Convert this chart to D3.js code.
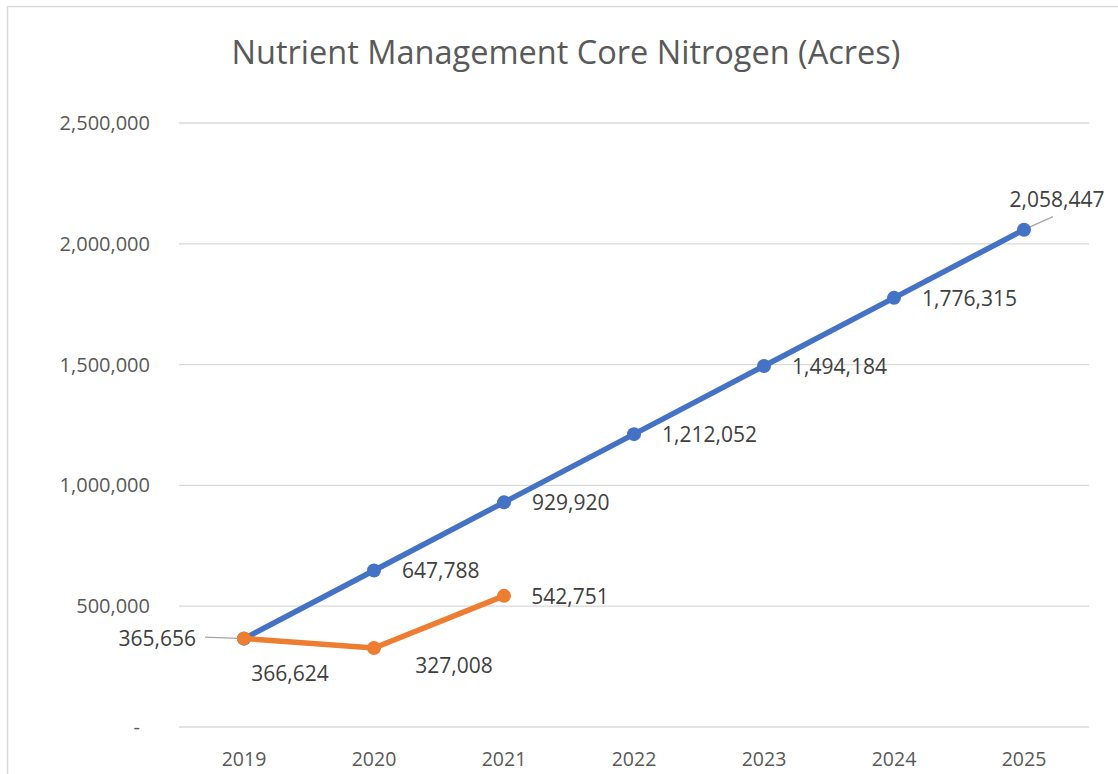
<!DOCTYPE html>
<html><head><meta charset="utf-8">
<script src="https://cdn.jsdelivr.net/npm/d3@7"></script>
<style>body{margin:0;background:#fff;} svg{display:block;font-family:"Open Sans","Noto Sans",sans-serif;}</style>
</head><body><svg id="c" width="1118" height="774"></svg>
<script>
const years = ["2019","2020","2021","2022","2023","2024","2025"];
const blueValues = [365656, 647788, 929920, 1212052, 1494184, 1776315, 2058447];
const orangeYears = ["2019","2020","2021"];
const orangeValues = [366624, 327008, 542751];
const yTicks = [0, 500000, 1000000, 1500000, 2000000, 2500000];
const title = "Nutrient Management Core Nitrogen (Acres)";

const FF = '"Open Sans","Noto Sans",sans-serif';
const svg = d3.select("#c");
const txt = "#595959";
svg.append("rect").attr("x",7.5).attr("y",6.5).attr("width",1130).attr("height",800)
  .attr("fill","#fff").attr("stroke","#d9d9d9").attr("stroke-width",1.5);

const x = d3.scaleBand().domain(years).range([179,1089]);
const y = d3.scaleLinear().domain([0,2500000]).range([727,123]);
const cx = d => x(d)+x.bandwidth()/2;

svg.append("text").attr("x",566).attr("y",64).attr("text-anchor","middle")
  .attr("font-size",32.5).attr("font-family",FF).attr("fill",txt).text(title);

const fmt = d3.format(",");
svg.append("g").selectAll("line").data(yTicks).join("line")
  .attr("x1",179).attr("x2",1089).attr("y1",d=>y(d)).attr("y2",d=>y(d))
  .attr("stroke","#d9d9d9").attr("stroke-width",1.3);
const yAxis = d3.axisLeft(y).tickValues(yTicks).tickSize(0).tickPadding(29)
  .tickFormat(d => d===0 ? "-" : fmt(d));
const gy = svg.append("g").attr("transform","translate(179,0)").call(yAxis);
gy.select(".domain").remove();
gy.selectAll("text").attr("font-size",20).attr("fill",txt).attr("font-family",FF);
gy.selectAll(".tick").filter(d=>d===0).select("text").attr("dx",-10);
const xAxis = d3.axisBottom(x).tickSize(0).tickPadding(25);
const gx = svg.append("g").attr("transform","translate(0,727)").call(xAxis);
gx.select(".domain").remove();
gx.selectAll("text").attr("font-size",19.5).attr("fill",txt).attr("font-family",FF);

const line = d3.line().x(d=>cx(d[0])).y(d=>y(d[1]));
const blue = "#4472C4", orange = "#ED7D31";
const bData = years.map((yr,i)=>[yr, blueValues[i]]);
const oData = orangeYears.map((yr,i)=>[yr, orangeValues[i]]);

svg.append("line").attr("x1",205).attr("y1",y(blueValues[0])-1.5).attr("x2",cx("2019")).attr("y2",y(blueValues[0]))
  .attr("stroke","#a6a6a6").attr("stroke-width",1.3);
svg.append("line").attr("x1",cx("2025")).attr("y1",y(blueValues[6])).attr("x2",cx("2025")+29).attr("y2",y(blueValues[6])-13)
  .attr("stroke","#a6a6a6").attr("stroke-width",1.3);

svg.append("path").datum(bData).attr("d",line).attr("fill","none").attr("stroke",blue).attr("stroke-width",5.5).attr("stroke-linejoin","round");
svg.append("g").selectAll("circle").data(bData).join("circle").attr("cx",d=>cx(d[0])).attr("cy",d=>y(d[1])).attr("r",7).attr("fill",blue);
svg.append("path").datum(oData).attr("d",line).attr("fill","none").attr("stroke",orange).attr("stroke-width",5.5).attr("stroke-linejoin","round");
svg.append("g").selectAll("circle").data(oData).join("circle").attr("cx",d=>cx(d[0])).attr("cy",d=>y(d[1])).attr("r",7).attr("fill",orange);

const lab = svg.append("g").attr("font-size",21).attr("font-family",FF).attr("fill","#404040");
bData.forEach((d,i)=>{
  let tx = cx(d[0])+28, ty = y(d[1])+8, anchor="start";
  if(i===0){ tx = 196; ty = y(d[1])+7; anchor="end"; }
  if(i===6){ tx = cx(d[0])+33; ty = y(d[1])-23; anchor="middle"; }
  lab.append("text").attr("x",tx).attr("y",ty).attr("text-anchor",anchor).text(fmt(d[1]));
});
oData.forEach((d,i)=>{
  lab.append("text").attr("x",cx(d[0]) + (i===0?46:i===1?80:66)).attr("y",y(d[1]) + (i===0?43:i===1?25:8))
    .attr("text-anchor","middle").text(fmt(d[1]));
});
</script></body></html>
